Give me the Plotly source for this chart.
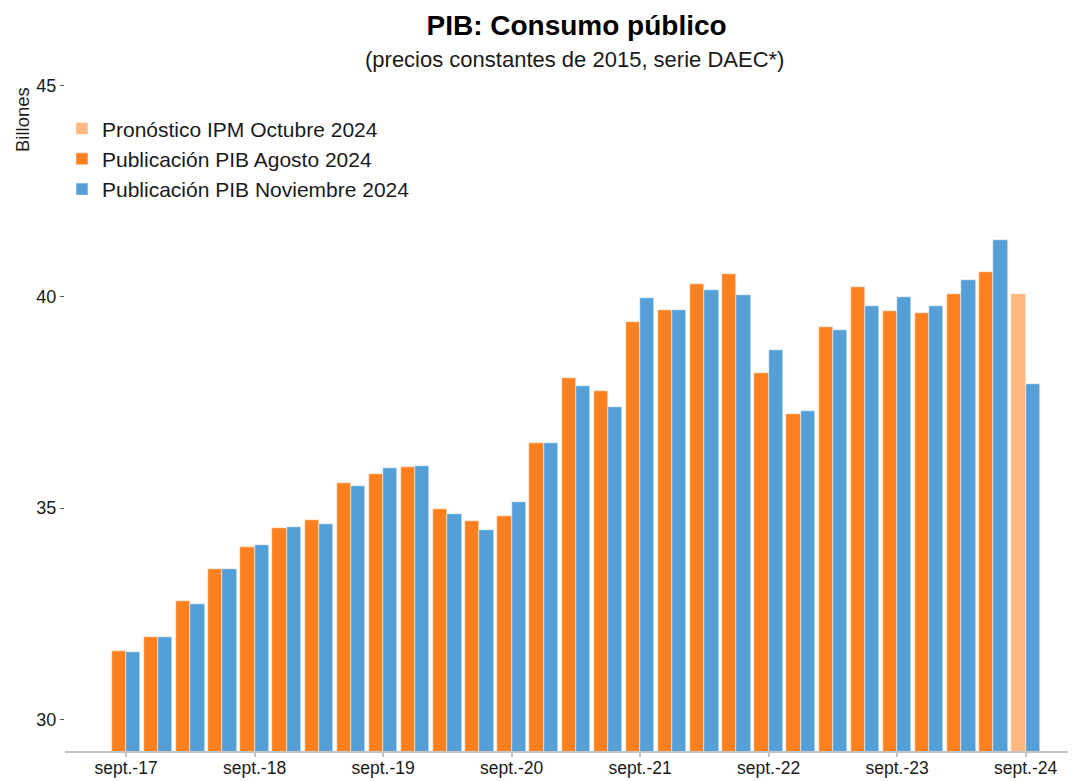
import plotly.graph_objects as go

quarters = ["sept.-17", "dic.-17", "mar.-18", "jun.-18", "sept.-18", "dic.-18", "mar.-19", "jun.-19",
            "sept.-19", "dic.-19", "mar.-20", "jun.-20", "sept.-20", "dic.-20", "mar.-21", "jun.-21",
            "sept.-21", "dic.-21", "mar.-22", "jun.-22", "sept.-22", "dic.-22", "mar.-23", "jun.-23",
            "sept.-23", "dic.-23", "mar.-24", "jun.-24", "sept.-24"]

pub_agosto = [31.61, 31.94, 32.79, 33.55, 34.09, 34.53, 34.73, 35.59, 35.80, 35.98, 34.98, 34.70,
              34.82, 36.53, 38.07, 37.78, 39.41, 39.68, 40.30, 40.55, 38.19, 37.22, 39.28, 40.23,
              39.66, 39.61, 40.06, 40.59]
pub_noviembre = [31.59, 31.94, 32.74, 33.55, 34.12, 34.56, 34.62, 35.53, 35.96, 36.00, 34.87, 34.48,
                 35.14, 36.53, 37.88, 37.39, 39.98, 39.69, 40.16, 40.05, 38.74, 37.29, 39.22, 39.78,
                 39.99, 39.79, 40.39, 41.34, 37.93]
pronostico_q = ["sept.-24"]
pronostico = [40.06]

tick_quarters = ["sept.-17", "sept.-18", "sept.-19", "sept.-20", "sept.-21", "sept.-22", "sept.-23", "sept.-24"]
y_ticks = [30, 35, 40, 45]

FONT = "Arial, Liberation Sans, sans-serif"
C_OR = "#FF801E"
C_BL = "#559FD7"
C_LO = "#FFB780"
W = 0.445

fig = go.Figure()
fig.add_trace(go.Bar(x=pronostico_q, y=pronostico, name="Pronóstico IPM Octubre 2024",
                     marker=dict(color=C_LO, line=dict(color="white", width=0.5)),
                     offset=-W, width=W))
fig.add_trace(go.Bar(x=quarters[:len(pub_agosto)], y=pub_agosto, name="Publicación PIB Agosto 2024",
                     marker=dict(color=C_OR, line=dict(color="white", width=0.5)),
                     offset=-W, width=W))
fig.add_trace(go.Bar(x=quarters, y=pub_noviembre, name="Publicación PIB Noviembre 2024",
                     marker=dict(color=C_BL, line=dict(color="white", width=0.5)),
                     offset=0, width=W))

# page has an 8px body margin: figure occupies 1068x773 starting at (8, 8)
fig.update_layout(
    width=1068, height=773,
    barmode="overlay",
    plot_bgcolor="white", paper_bgcolor="white",
    margin=dict(l=57, r=0, t=46, b=30),
    font=dict(family=FONT, color="#1a1a1a"),
    title=dict(text="<b>PIB: Consumo público</b>", x=0.506, xref="paper", xanchor="center",
               y=1, yref="container", yanchor="top", pad=dict(t=7, b=0),
               font=dict(size=28, color="black", family=FONT)),
    legend=dict(x=-0.003, y=0.922, xanchor="left", yanchor="top", traceorder="normal",
                font=dict(size=21, color="#1a1a1a"), bgcolor="rgba(0,0,0,0)", itemwidth=30),
    showlegend=True,
    bargap=0,
)

fig.update_xaxes(type="category", categoryorder="array", categoryarray=quarters,
                 range=[-1.9, 29.57], tickmode="array", tickvals=tick_quarters, ticktext=tick_quarters,
                 showline=True, linecolor="#c4c4c4", linewidth=2, ticks="outside", ticklen=4,
                 tickcolor="#c4c4c4", tickwidth=1.5, showgrid=False, zeroline=False,
                 ticklabelstandoff=-4,
                 tickfont=dict(size=17.5, color="#1a1a1a"))
fig.update_yaxes(range=[29.25, 45.75], tickmode="array", tickvals=y_ticks,
                 showline=False, ticks="outside", ticklen=4, tickcolor="#555555", tickwidth=1,
                 showgrid=False, zeroline=False, tickfont=dict(size=18, color="#1a1a1a"))

fig.add_annotation(text="(precios constantes de 2015, serie DAEC*)", xref="paper", yref="paper",
                   x=0.504, y=(743 - 51) / 697, xanchor="center", yanchor="middle", showarrow=False,
                   font=dict(size=22, color="#1a1a1a", family=FONT))
fig.add_annotation(text="Billones", xref="paper", yref="paper", x=(14 - 57) / 1011, y=(743 - 112) / 697,
                   xanchor="center", yanchor="middle", textangle=-90, showarrow=False,
                   font=dict(size=18.5, color="#1a1a1a", family=FONT))

fig.write_html("out.html")
